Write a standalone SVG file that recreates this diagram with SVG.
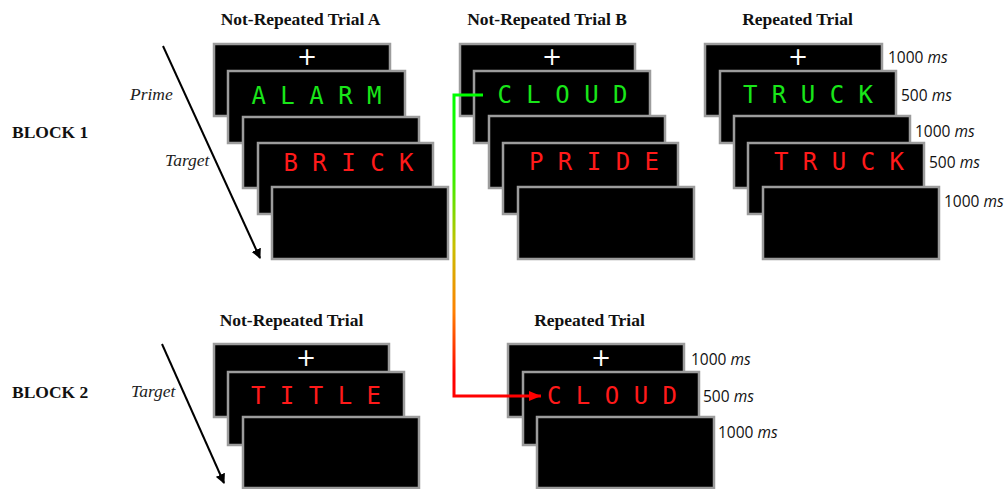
<svg xmlns="http://www.w3.org/2000/svg" width="1008" height="489" viewBox="0 0 1008 489">
  <defs>
    <style>
      .scr { fill: #000; stroke: #9c9c9c; stroke-width: 2.5; }
      .title { font-family: "Liberation Serif", "Times New Roman", serif; font-weight: bold; font-size: 17.5px; fill: #111; text-anchor: middle; }
      .block { font-family: "Liberation Serif", "Times New Roman", serif; font-weight: bold; font-size: 17.5px; fill: #111; }
      .side { font-family: "Liberation Serif", "Times New Roman", serif; font-style: italic; font-size: 17.5px; fill: #222; }
      .word { font-family: "DejaVu Sans Mono", "Liberation Mono", monospace; font-size: 24px; text-anchor: middle; }
      .green { fill: #19e619; }
      .red { fill: #ff1a1a; }
      .fix { font-family: "DejaVu Sans", sans-serif; font-size: 24px; fill: #fff; text-anchor: middle; }
      .dur { font-family: "Open Sans", "Liberation Sans", sans-serif; font-size: 15.5px; fill: #111; }
      .dur tspan { font-style: italic; }
      .time { stroke: #000; stroke-width: 2; fill: none; }
    </style>
    <marker id="arrowBlack" viewBox="0 0 10 10" refX="9" refY="5" markerWidth="5" markerHeight="5" orient="auto" markerUnits="strokeWidth">
      <path d="M0,0 L10,5 L0,10 Z" fill="#000"/>
    </marker>
    <linearGradient id="primeLink" gradientUnits="userSpaceOnUse" x1="0" y1="95" x2="0" y2="396">
      <stop offset="0" stop-color="#00ff00"/>
      <stop offset="0.28" stop-color="#3cee00"/>
      <stop offset="0.5" stop-color="#c8c000"/>
      <stop offset="0.72" stop-color="#ff8000"/>
      <stop offset="0.93" stop-color="#ff0000"/>
      <stop offset="1" stop-color="#ff0000"/>
    </linearGradient>
  </defs>

  <rect width="1008" height="489" fill="#fff"/>

  <!-- block labels -->
  <g id="block1-label">
    <text class="block" x="12" y="138">BLOCK 1</text>
    <text class="side" x="130" y="100">Prime</text>
    <text class="side" x="165" y="166">Target</text>
  </g>
  <g id="block2-label">
    <text class="block" x="12" y="398">BLOCK 2</text>
    <text class="side" x="131" y="397">Target</text>
  </g>

  <!-- column headings -->
  <g id="headings">
    <text class="title" x="300.5" y="25">Not-Repeated Trial A</text>
    <text class="title" x="547" y="25">Not-Repeated Trial B</text>
    <text class="title" x="797.5" y="25">Repeated Trial</text>
    <text class="title" x="291.5" y="326">Not-Repeated Trial</text>
    <text class="title" x="589.5" y="326">Repeated Trial</text>
  </g>

  <!-- Block 1, not-repeated trial A -->
  <g id="trialA">
    <rect class="scr" x="214" y="44" width="176" height="72"/>
    <text class="fix" x="307" y="65">+</text>
    <rect class="scr" x="228" y="71" width="177" height="72"/>
    <text class="word green" x="316.5" y="104">A L A R M</text>
    <rect class="scr" x="243" y="117" width="176" height="71"/>
    <rect class="scr" x="258" y="143" width="175" height="71"/>
    <text class="word red" x="348.5" y="171">B R I C K</text>
    <rect class="scr" x="272" y="187" width="176" height="72"/>
  </g>

  <!-- Block 1, not-repeated trial B -->
  <g id="trialB">
    <rect class="scr" x="460" y="44" width="175" height="72"/>
    <text class="fix" x="552" y="65">+</text>
    <rect class="scr" x="474" y="71" width="176" height="72"/>
    <text class="word green" x="562.5" y="103">C L O U D</text>
    <rect class="scr" x="489" y="116" width="176" height="72"/>
    <rect class="scr" x="503" y="143" width="175" height="71"/>
    <text class="word red" x="594" y="170">P R I D E</text>
    <rect class="scr" x="518" y="187" width="176" height="72"/>
  </g>

  <!-- Block 1, repeated trial -->
  <g id="trialRep1">
    <rect class="scr" x="705" y="44" width="177" height="72"/>
    <text class="fix" x="798" y="65">+</text>
    <rect class="scr" x="720" y="71" width="176" height="72"/>
    <text class="word green" x="808" y="103">T R U C K</text>
    <rect class="scr" x="734" y="116" width="176" height="72"/>
    <rect class="scr" x="748" y="143" width="176" height="71"/>
    <text class="word red" x="839" y="170">T R U C K</text>
    <rect class="scr" x="763" y="187" width="176" height="72"/>
    <text class="dur" x="888" y="63">1000 <tspan>ms</tspan></text>
    <text class="dur" x="901" y="101">500 <tspan>ms</tspan></text>
    <text class="dur" x="915" y="137">1000 <tspan>ms</tspan></text>
    <text class="dur" x="929" y="168">500 <tspan>ms</tspan></text>
    <text class="dur" x="944" y="207">1000 <tspan>ms</tspan></text>
  </g>

  <!-- Block 2, not-repeated trial -->
  <g id="trialNR2">
    <rect class="scr" x="214" y="344" width="175" height="73"/>
    <text class="fix" x="306" y="366">+</text>
    <rect class="scr" x="228" y="372" width="176" height="73"/>
    <text class="word red" x="316" y="404">T I T L E</text>
    <rect class="scr" x="243" y="417" width="176" height="71"/>
  </g>

  <!-- Block 2, repeated trial -->
  <g id="trialRep2">
    <rect class="scr" x="508" y="344" width="176" height="73"/>
    <text class="fix" x="601" y="366">+</text>
    <rect class="scr" x="523" y="372" width="176" height="73"/>
    <text class="word red" x="612" y="404">C L O U D</text>
    <rect class="scr" x="537" y="417" width="177" height="71"/>
    <text class="dur" x="691" y="365">1000 <tspan>ms</tspan></text>
    <text class="dur" x="703" y="402">500 <tspan>ms</tspan></text>
    <text class="dur" x="718" y="438">1000 <tspan>ms</tspan></text>
  </g>

  <!-- connectors -->
  <g id="connectors">
    <line class="time" x1="163" y1="46" x2="260" y2="258" marker-end="url(#arrowBlack)"/>
    <line class="time" x1="162" y1="344" x2="224" y2="483" marker-end="url(#arrowBlack)"/>
    <path d="M483,95 H454 V396 H541" fill="none" stroke="url(#primeLink)" stroke-width="3"/>
    <path d="M529,391 L541,396 L529,401 Z" fill="#ff0000"/>
  </g>
</svg>
